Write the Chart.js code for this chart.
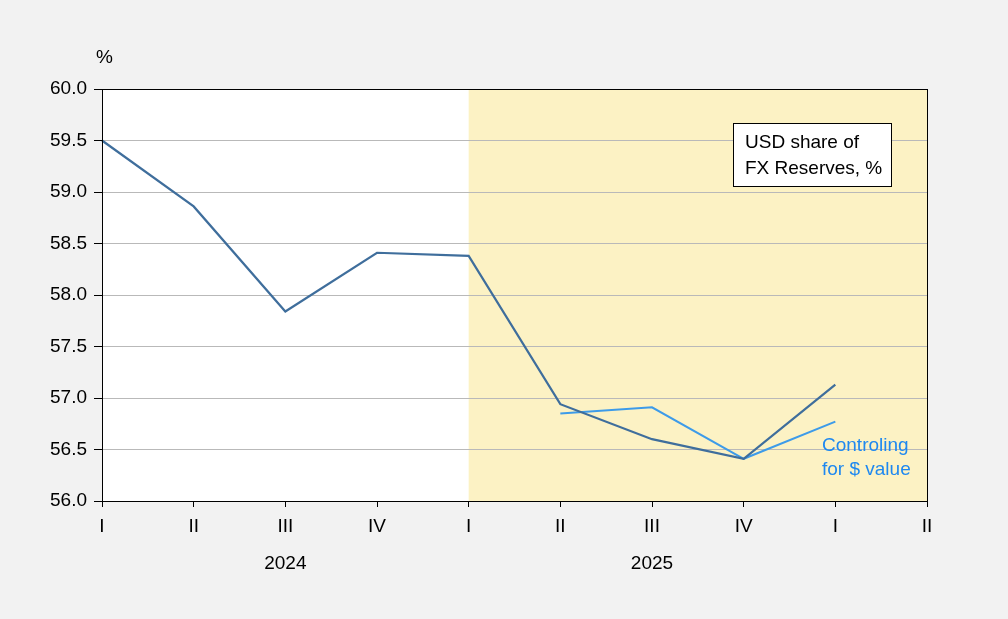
<!DOCTYPE html>
<html>
<head>
<meta charset="utf-8">
<script src="https://cdn.jsdelivr.net/npm/chart.js@4.4.1/dist/chart.umd.min.js"></script>
<style>
  html, body { margin: 0; padding: 0; background: #f2f2f2; }
  #wrap { width: 1008px; height: 619px; }
</style>
</head>
<body>
<div id="wrap"><canvas id="usdChart" width="1008" height="619"></canvas></div>
<script>
// quarters 2024Q1 .. 2026Q2
var quarters = ['I', 'II', 'III', 'IV', 'I', 'II', 'III', 'IV', 'I', 'II'];
var years = ['2024', '2025'];
var usdShare = [59.50, 58.86, 57.84, 58.41, 58.38, 56.94, 56.60, 56.41, 57.13, null];
var usdShareConst = [null, null, null, null, null, 56.85, 56.91, 56.41, 56.77, null];
var yTicks = [56.0, 56.5, 57.0, 57.5, 58.0, 58.5, 59.0, 59.5, 60.0];
var shadeFrom = 4; // shaded from 2025Q1 on

var FONT = '"Liberation Sans", Arial, sans-serif';
var FS = 19;

var extras = {
    id: 'extras',
    beforeDraw: function (chart) {
        var c = chart.ctx, a = chart.chartArea, x = chart.scales.x;
        var x0 = x.getPixelForValue(shadeFrom);
        c.save();
        c.fillStyle = '#ffffff';
        c.fillRect(a.left, a.top, a.right - a.left, a.bottom - a.top);
        c.fillStyle = '#fcf2c4';
        c.fillRect(x0, a.top, a.right - x0, a.bottom - a.top);
        c.restore();
    },
    afterDraw: function (chart) {
        var c = chart.ctx, a = chart.chartArea, x = chart.scales.x;
        c.save();
        // frame
        c.strokeStyle = '#000';
        c.lineWidth = 1;
        c.strokeRect(Math.round(a.left) + 0.5, Math.round(a.top) + 0.5,
            Math.round(a.right - a.left), Math.round(a.bottom - a.top));
        // unit label
        c.fillStyle = '#000';
        c.font = FS + 'px ' + FONT;
        c.textAlign = 'left';
        c.textBaseline = 'middle';
        c.fillText('%', 96, 58);
        // year labels
        c.textAlign = 'center';
        years.forEach(function (yr, i) {
            var p0 = x.getPixelForValue(i * 4), p1 = x.getPixelForValue(i * 4 + 4);
            c.fillText(yr, (p0 + p1) / 2, 564);
        });
        // legend box
        c.fillStyle = '#fff';
        c.fillRect(733.5, 123.5, 158, 63);
        c.strokeRect(733.5, 123.5, 158, 63);
        c.fillStyle = '#000';
        c.textAlign = 'left';
        c.fillText('USD share of', 745, 143);
        c.fillText('FX Reserves, %', 745, 169);
        // series note
        c.fillStyle = '#1e88f0';
        c.fillText('Controling', 822, 446);
        c.fillText('for $ value', 822, 470);
        c.restore();
    }
};

var ctx = document.getElementById('usdChart').getContext('2d');
var usdChart = new Chart(ctx, {
    type: 'line',
    data: {
        labels: quarters,
        datasets: [
            {
                label: 'USD share of FX Reserves, %',
                data: usdShare,
                borderColor: '#3f6e9c',
                borderWidth: 2.2,
                pointRadius: 0,
                tension: 0
            },
            {
                label: 'Controling for $ value',
                data: usdShareConst,
                borderColor: '#3d9be9',
                borderWidth: 2,
                pointRadius: 0,
                tension: 0
            }
        ]
    },
    options: {
        responsive: false,
        animation: false,
        layout: { padding: { left: 0, top: 89, right: 81, bottom: 0 } },
        plugins: {
            legend: { display: false },
            tooltip: { enabled: false }
        },
        scales: {
            x: {
                type: 'category',
                offset: false,
                afterFit: function (s) { s.height = 118; },
                grid: {
                    drawOnChartArea: false,
                    drawTicks: true,
                    tickLength: 6,
                    tickColor: '#000'
                },
                border: { color: '#000', width: 1 },
                ticks: {
                    color: '#000',
                    font: { family: FONT, size: FS },
                    padding: 8,
                    maxRotation: 0,
                    autoSkip: false
                }
            },
            y: {
                min: 56,
                max: 60,
                afterFit: function (s) { s.width = 102; },
                afterBuildTicks: function (s) {
                    s.ticks = yTicks.map(function (v) { return { value: v }; });
                },
                grid: {
                    color: '#b9b9b9',
                    tickColor: '#000',
                    tickLength: 8
                },
                border: { color: '#000', width: 1 },
                ticks: {
                    color: '#000',
                    font: { family: FONT, size: FS },
                    padding: 7,
                    callback: function (v) { return Number(v).toFixed(1); }
                }
            }
        }
    },
    plugins: [extras]
});
</script>
</body>
</html>
